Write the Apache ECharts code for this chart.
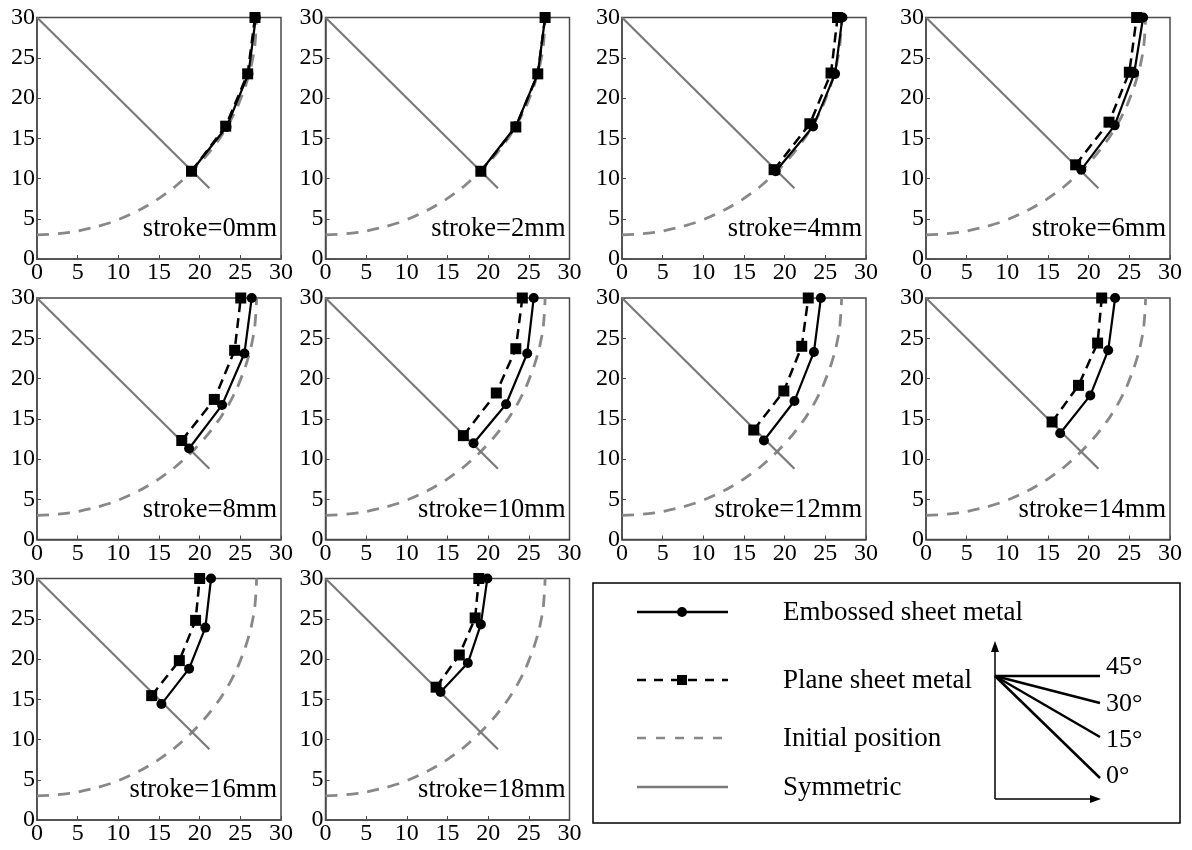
<!DOCTYPE html>
<html><head><meta charset="utf-8">
<script src="https://cdn.jsdelivr.net/npm/echarts@6/dist/echarts.min.js"></script>
<style>html,body{margin:0;padding:0;background:#fff}#c{width:1192px;height:850px}</style>
</head><body><div id="c"></div>
<script>
// ---- data ----
const strokeLabels = ['stroke=0mm','stroke=2mm','stroke=4mm','stroke=6mm','stroke=8mm','stroke=10mm','stroke=12mm','stroke=14mm','stroke=16mm','stroke=18mm'];
const axisTicks = [0,5,10,15,20,25,30];
// initial position
const initialPos = [[0,3.0],[2,3.1],[4,3.3],[6,3.7],[8,4.2],[10,4.9],[12,5.8],[14,6.9],[16,8.25],[18,9.9],[20,11.9],[22,14.35],[23,15.85],[24,17.6],[25,19.8],[26,22.7],[26.5,24.8],[26.8,26.7],[27,30]];
const symmetric = [[0,30],[21.2,8.8]];
// embossed sheet metal (circles, solid)
const emb0  = [[19.0,10.9],[23.3,16.4],[26.0,23.0],[26.9,30]];
const emb2  = [[19.1,10.9],[23.4,16.5],[26.1,23.0],[27.0,30]];
const emb4  = [[18.9,10.9],[23.5,16.45],[26.2,23.0],[27.1,30]];
const emb6  = [[19.1,11.1],[23.2,16.6],[25.6,23.1],[26.7,30]];
const emb8  = [[18.7,11.3],[22.75,16.7],[25.5,23.1],[26.4,30]];
const emb10 = [[18.2,11.95],[22.2,16.8],[24.8,23.1],[25.6,30]];
const emb12 = [[17.45,12.3],[21.2,17.2],[23.6,23.3],[24.45,30]];
const emb14 = [[16.5,13.2],[20.2,17.9],[22.4,23.5],[23.25,30]];
const emb16 = [[15.3,14.4],[18.7,18.8],[20.7,23.9],[21.4,30]];
const emb18 = [[14.15,15.9],[17.5,19.5],[19.1,24.3],[19.9,30]];
// plane sheet metal (squares, dashed)
const pla0  = [[19.0,10.9],[23.2,16.5],[25.9,23.0],[26.8,30]];
const pla2  = [[19.1,10.9],[23.4,16.4],[26.1,23.0],[27.0,30]];
const pla4  = [[18.7,11.1],[23.1,16.8],[25.7,23.1],[26.5,30]];
const pla6  = [[18.4,11.7],[22.5,17.0],[25.0,23.2],[25.9,30]];
const pla8  = [[17.8,12.3],[21.8,17.4],[24.3,23.5],[25.05,30]];
const pla10 = [[16.95,12.9],[21.0,18.2],[23.4,23.7],[24.2,30]];
const pla12 = [[16.2,13.6],[19.9,18.45],[22.1,24.0],[22.9,30]];
const pla14 = [[15.5,14.6],[18.75,19.15],[21.1,24.4],[21.6,30]];
const pla16 = [[14.1,15.45],[17.5,19.8],[19.5,24.8],[20.0,30]];
const pla18 = [[13.6,16.5],[16.45,20.5],[18.4,25.1],[18.85,30]];
const embossedList = [emb0,emb2,emb4,emb6,emb8,emb10,emb12,emb14,emb16,emb18];
const planeList = [pla0,pla2,pla4,pla6,pla8,pla10,pla12,pla14,pla16,pla18];
const legendNames = ['Embossed sheet metal','Plane sheet metal','Initial position','Symmetric'];
const angleLabels = ['45°','30°','15°','0°'];

// ---- layout ----
const colLeft = [37, 325.5, 622, 926];
const rowTop = [17.5, 298, 578.5];
const gw = 244, gh = 241.5;
const FONT = 'Liberation Serif';
const AX = '#4a4a4a';

const grids = [], xAxes = [], yAxes = [], series = [], graphics = [];
for (let i = 0; i < 10; i++) {
  const r = Math.floor(i / 4), c = i % 4;
  const left = colLeft[c], top = rowTop[r];
  grids.push({left: left, top: top, width: gw, height: gh, show: true, borderColor: AX, borderWidth: 1.5, containLabel: false});
  const axBase = {
    min: axisTicks[0], max: axisTicks[axisTicks.length-1], interval: axisTicks[1]-axisTicks[0], gridIndex: i,
    axisLine: {show: true, onZero: false, lineStyle: {color: AX, width: 1.5}},
    axisTick: {show: true, inside: true, length: 4, lineStyle: {color: AX}},
    splitLine: {show: false},
    axisLabel: {fontFamily: FONT, fontSize: 24, color: '#000'}
  };
  xAxes.push(Object.assign({type: 'value'}, axBase, {axisLabel: Object.assign({}, axBase.axisLabel, {margin: 2})}));
  yAxes.push(Object.assign({type: 'value'}, axBase, {axisLabel: Object.assign({}, axBase.axisLabel, {margin: 2})}));
  series.push({type: 'line', xAxisIndex: i, yAxisIndex: i, data: initialPos, smooth: true, showSymbol: false, symbol: 'none',
    lineStyle: {color: '#888', width: 2.8, type: [12, 9]}, z: 2, silent: true});
  series.push({type: 'line', xAxisIndex: i, yAxisIndex: i, data: symmetric, showSymbol: false, symbol: 'none',
    lineStyle: {color: '#7a7a7a', width: 2.2}, z: 3, silent: true});
  series.push({type: 'line', xAxisIndex: i, yAxisIndex: i, data: embossedList[i], symbol: 'circle', symbolSize: 10, clip: false,
    itemStyle: {color: '#000'}, lineStyle: {color: '#000', width: 2.2}, z: 4});
  series.push({type: 'line', xAxisIndex: i, yAxisIndex: i, data: planeList[i], symbol: 'rect', symbolSize: 11, clip: false,
    itemStyle: {color: '#000'}, lineStyle: {color: '#000', width: 2.5, type: [10, 6]}, z: 5});
  graphics.push({type: 'text', x: left + gw - 4, y: top + gh - 16, z: 10,
    style: {text: strokeLabels[i], fontFamily: FONT, fontSize: 26.5, fill: '#000', textAlign: 'right', textVerticalAlign: 'bottom'}});
}
// legend box
graphics.push({type: 'rect', shape: {x: 593, y: 583, width: 587, height: 240}, style: {fill: 'none', stroke: '#000', lineWidth: 1.5}});
const legY = [612, 680, 738, 787];
graphics.push({type: 'line', shape: {x1: 637, y1: legY[0], x2: 728, y2: legY[0]}, style: {stroke: '#000', lineWidth: 2.5}});
graphics.push({type: 'circle', shape: {cx: 682, cy: legY[0], r: 5}, style: {fill: '#000'}});
graphics.push({type: 'line', shape: {x1: 637, y1: legY[1], x2: 728, y2: legY[1]}, style: {stroke: '#000', lineWidth: 2.5, lineDash: [9, 8]}});
graphics.push({type: 'rect', shape: {x: 677, y: legY[1]-5, width: 10, height: 10}, style: {fill: '#000'}});
graphics.push({type: 'line', shape: {x1: 637, y1: legY[2], x2: 728, y2: legY[2]}, style: {stroke: '#888', lineWidth: 2.5, lineDash: [9, 10]}});
graphics.push({type: 'line', shape: {x1: 637, y1: legY[3], x2: 728, y2: legY[3]}, style: {stroke: '#7a7a7a', lineWidth: 2.5}});
for (let k = 0; k < 4; k++) {
  graphics.push({type: 'text', x: 783, y: legY[k] + 1, style: {text: legendNames[k], fontFamily: FONT, fontSize: 27, fill: '#000', textVerticalAlign: 'middle'}});
}
// angle diagram
const ox = 995, oy = 676;
graphics.push({type: 'line', shape: {x1: ox, y1: 799, x2: ox, y2: 650}, style: {stroke: '#000', lineWidth: 1.5}});
graphics.push({type: 'polygon', shape: {points: [[ox-4, 652], [ox+4, 652], [ox, 641]]}, style: {fill: '#000'}});
graphics.push({type: 'line', shape: {x1: ox, y1: 799, x2: 1092, y2: 799}, style: {stroke: '#000', lineWidth: 1.5}});
graphics.push({type: 'polygon', shape: {points: [[1090, 795], [1090, 803], [1101, 799]]}, style: {fill: '#000'}});
const angEndY = [676, 703, 737, 778];
const angLabY = [667, 704, 740, 776];
for (let k = 0; k < 4; k++) {
  graphics.push({type: 'line', shape: {x1: ox, y1: oy, x2: 1100, y2: angEndY[k]}, style: {stroke: '#000', lineWidth: 2.5}});
  graphics.push({type: 'text', x: 1106, y: angLabY[k], style: {text: angleLabels[k], fontFamily: FONT, fontSize: 26, fill: '#000', textVerticalAlign: 'middle'}});
}

const chart = echarts.init(document.getElementById('c'), null, {renderer: 'canvas'});
chart.setOption({
  animation: false,
  backgroundColor: '#fff',
  grid: grids, xAxis: xAxes, yAxis: yAxes, series: series, graphic: graphics
});
</script></body></html>
